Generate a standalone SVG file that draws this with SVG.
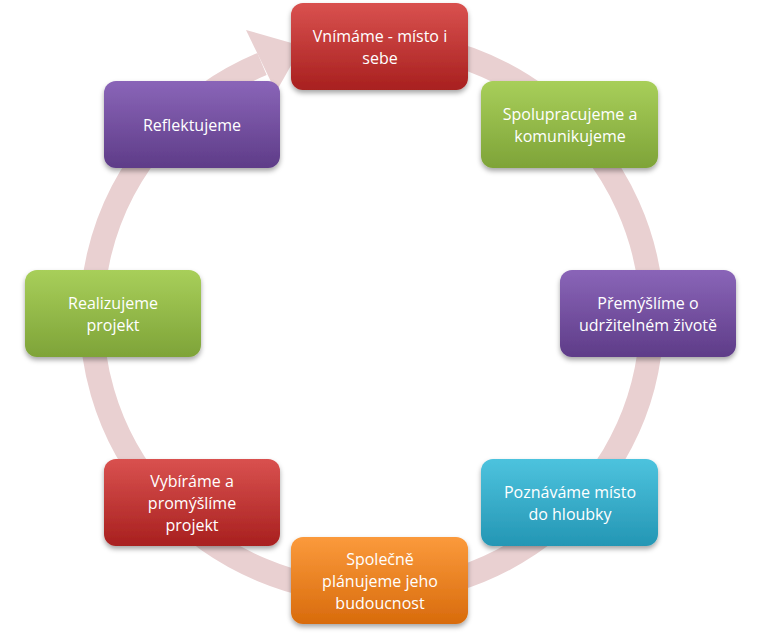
<svg xmlns="http://www.w3.org/2000/svg" width="761" height="633" viewBox="0 0 761 633">
<defs>
<linearGradient id="red" x1="0" y1="0" x2="0" y2="1"><stop offset="0" stop-color="#d9514f"/><stop offset="1" stop-color="#a8201f"/></linearGradient>
<linearGradient id="green" x1="0" y1="0" x2="0" y2="1"><stop offset="0" stop-color="#a8cf5a"/><stop offset="1" stop-color="#7ea338"/></linearGradient>
<linearGradient id="purple" x1="0" y1="0" x2="0" y2="1"><stop offset="0" stop-color="#8a65b8"/><stop offset="1" stop-color="#5e3c88"/></linearGradient>
<linearGradient id="cyan" x1="0" y1="0" x2="0" y2="1"><stop offset="0" stop-color="#4dc3de"/><stop offset="1" stop-color="#2496b4"/></linearGradient>
<linearGradient id="orange" x1="0" y1="0" x2="0" y2="1"><stop offset="0" stop-color="#fb9a3c"/><stop offset="1" stop-color="#d86b0c"/></linearGradient>
<filter id="sh" x="-10%" y="-10%" width="130%" height="140%"><feDropShadow dx="0" dy="3" stdDeviation="2.5" flood-color="#000" flood-opacity="0.35"/></filter>
<style>
text{font-family:"Open Sans","Liberation Sans",sans-serif;font-size:16px;fill:#fff;text-anchor:middle}
rect.b{filter:url(#sh)}
</style>
</defs>
<g id="connectors">
<path d="M 430 48 A 280 275 0 1 1 262 64" fill="none" stroke="#e9d0d1" stroke-width="24"/>
<polygon points="246,30 302,46 276,92" fill="#e9d0d1"/>
</g>
<g id="n1"><rect class="b" x="291" y="3" width="177" height="87" rx="12" fill="url(#red)"/><text x="380" y="42">Vnímáme  - místo i</text><text x="380" y="64">sebe</text></g>
<g id="n2"><rect class="b" x="481" y="81" width="177" height="87" rx="12" fill="url(#green)"/><text x="570" y="120">Spolupracujeme a</text><text x="570" y="142">komunikujeme</text></g>
<g id="n3"><rect class="b" x="560" y="270" width="176" height="87" rx="12" fill="url(#purple)"/><text x="648" y="309">Přemýšlíme o</text><text x="648" y="331">udržitelném životě</text></g>
<g id="n4"><rect class="b" x="481" y="459" width="177" height="87" rx="12" fill="url(#cyan)"/><text x="570" y="498">Poznáváme místo</text><text x="570" y="520">do hloubky</text></g>
<g id="n5"><rect class="b" x="291" y="537" width="177" height="87" rx="12" fill="url(#orange)"/><text x="380" y="565">Společně</text><text x="380" y="587">plánujeme jeho</text><text x="380" y="609">budoucnost</text></g>
<g id="n6"><rect class="b" x="104" y="459" width="176" height="87" rx="12" fill="url(#red)"/><text x="192" y="487">Vybíráme a</text><text x="192" y="509">promýšlíme</text><text x="192" y="531">projekt</text></g>
<g id="n7"><rect class="b" x="25" y="270" width="176" height="87" rx="12" fill="url(#green)"/><text x="113" y="309">Realizujeme</text><text x="113" y="331">projekt</text></g>
<g id="n8"><rect class="b" x="104" y="81" width="176" height="87" rx="12" fill="url(#purple)"/><text x="192" y="131">Reflektujeme</text></g>
</svg>
